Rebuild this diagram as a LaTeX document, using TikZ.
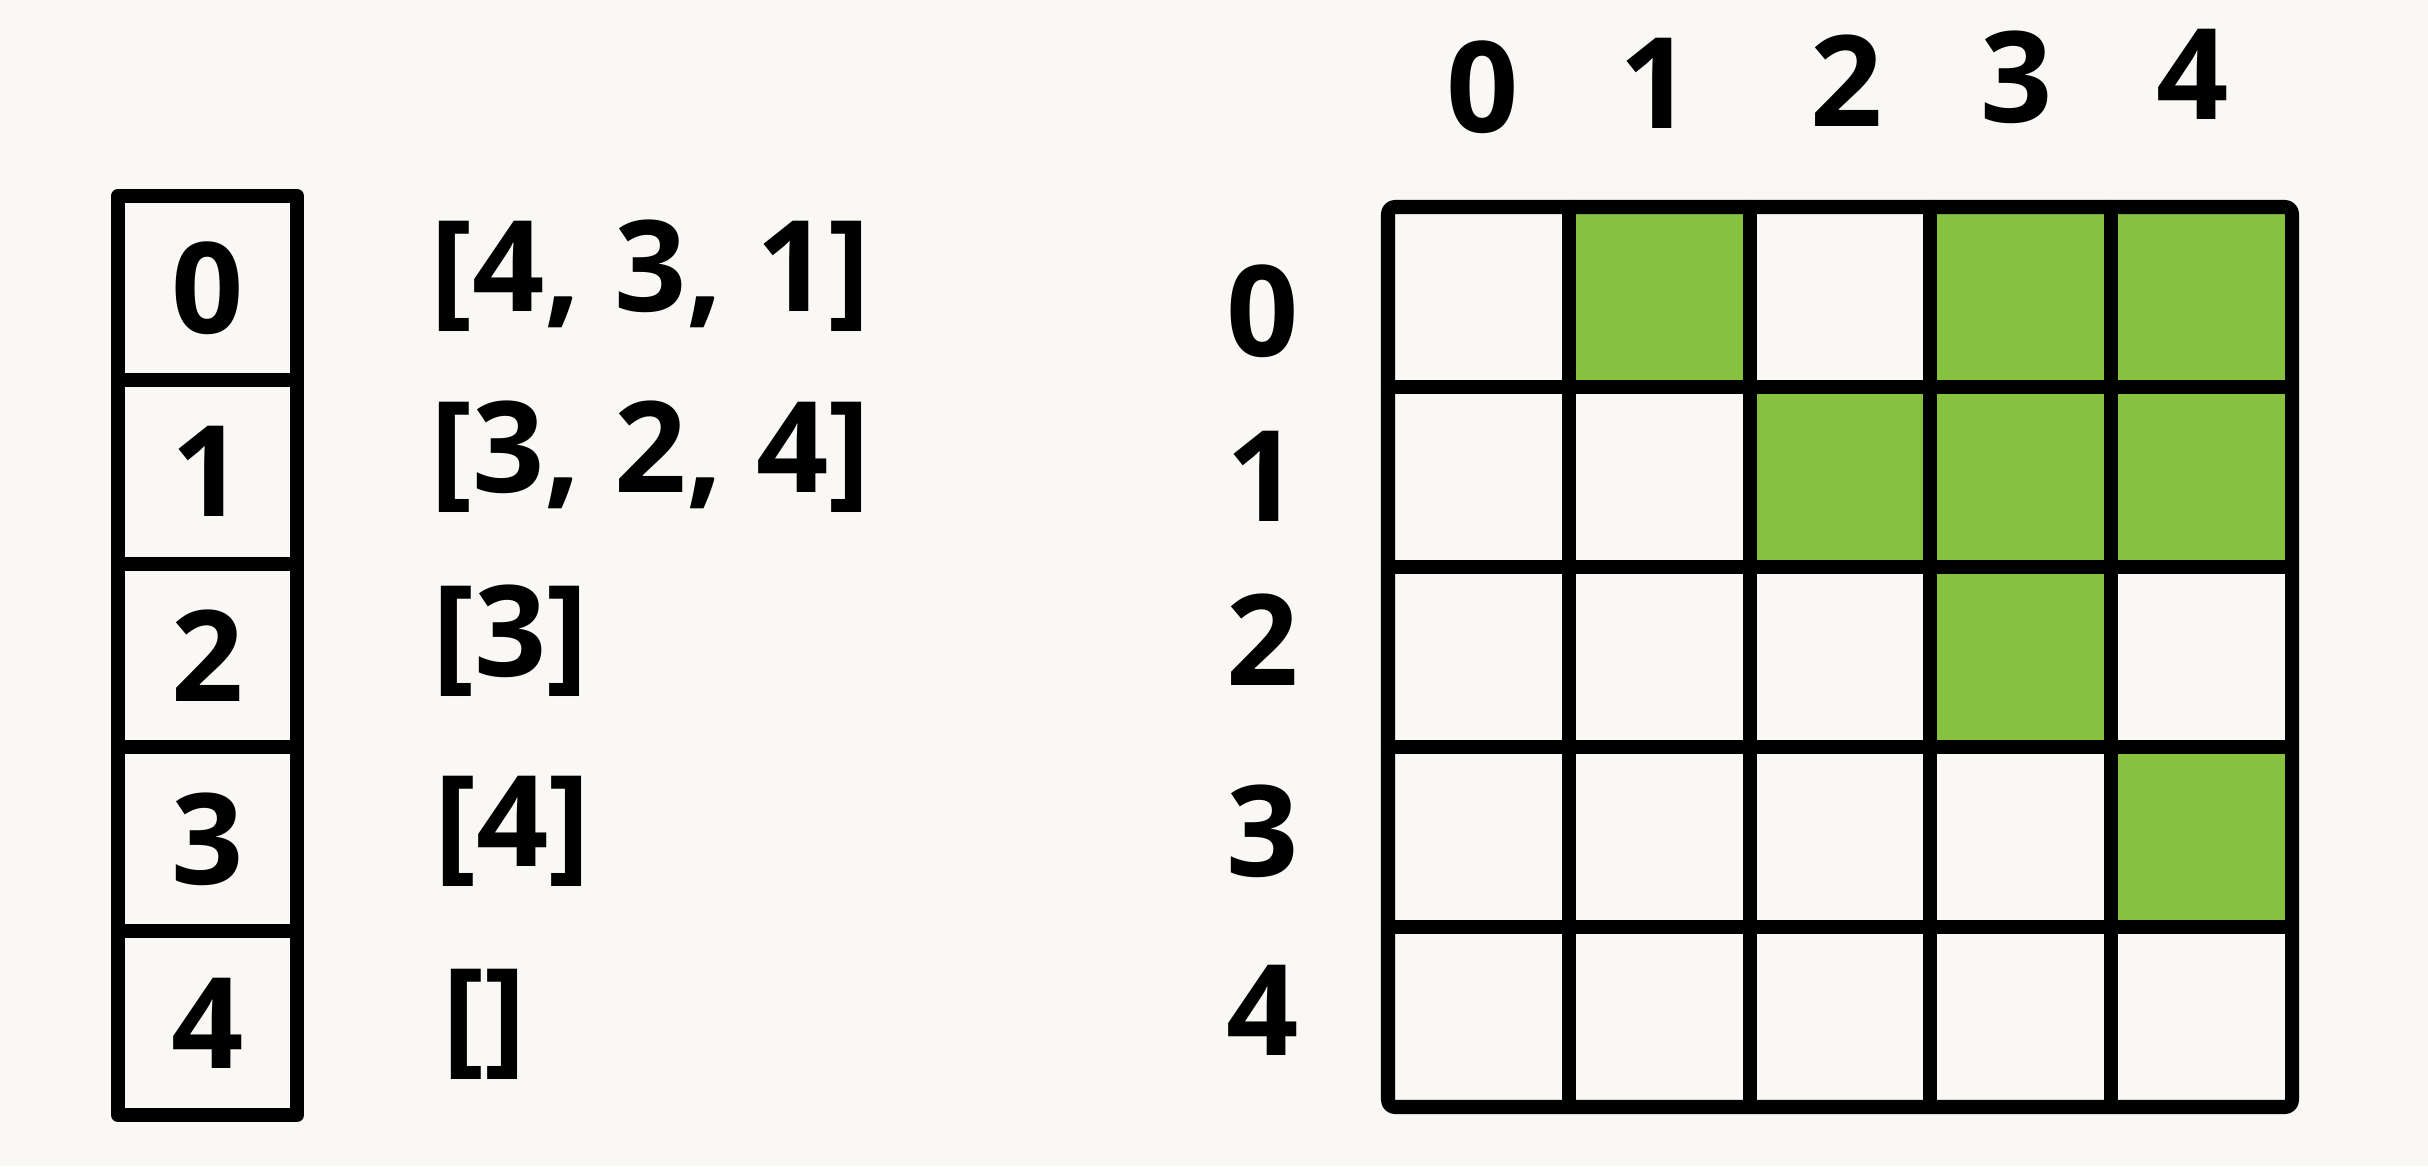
\documentclass[tikz,border=0pt]{standalone}
\usepackage{fontspec}
\setmainfont{Open Sans}
\usetikzlibrary{positioning}

\definecolor{paper}{RGB}{250,248,245}
\definecolor{leaf}{RGB}{134,193,63}

\begin{document}
\begin{tikzpicture}[
    wire/.style={line width=4pt, line join=round, line cap=round},
    num/.style={font=\fontsize{36}{40}\selectfont\bfseries, inner sep=0pt},
    slot/.style={draw, wire, num, minimum width=1.79cm, minimum height=1.838cm, outer sep=0pt},
    lst/.style={num, anchor=west, font=\fontsize{36}{40}\selectfont\bfseries}
  ]
  \fill[paper] (0,0) rectangle (24.28,11.66);

  % vertex array
  \node[slot] (v0) at (2.075, 8.781) {0};
  \node[slot, below=0pt of v0] (v1) {1};
  \node[slot, below=0pt of v1] (v2) {2};
  \node[slot, below=0pt of v2] (v3) {3};
  \node[slot, below=0pt of v3] (v4) {4};

  % adjacency lists
  \node[lst] (l0) at (4.30, 8.90) {[4, 3, 1]};
  \node[lst] (l1) at (4.30, 7.09) {[3, 2, 4]};
  \node[lst] (l2) at (4.32, 5.25) {[3]};
  \node[lst] (l3) at (4.34, 3.35) {[4]};
  \node[lst] (l4) at (4.42, 1.42) {[]};

  % matrix
  \begin{scope}[shift={(13.88,0.59)}, x=1.808cm, y=1.8cm]
    \foreach \c/\r in {1/4, 3/4, 4/4, 2/3, 3/3, 4/3, 3/2, 4/1}
      \fill[leaf] (\c,\r) rectangle ++(1,1);
    \foreach \i in {1,...,4} {
      \draw[wire] (\i,0) -- (\i,5);
      \draw[wire] (0,\i) -- (5,\i);
    }
    \draw[wire, rounded corners=2pt] (0,0) rectangle (5,5);
  \end{scope}

  \node[num] (r0) at (12.63, 8.55) {0};
  \node[num] (r1) at (12.63, 6.90) {1};
  \node[num] (r2) at (12.63, 5.26) {2};
  \node[num] (r3) at (12.63, 3.35) {3};
  \node[num] (r4) at (12.63, 1.56) {4};

  \node[num] (k0) at (14.83, 10.79) {0};
  \node[num] (k1) at (16.56, 10.83) {1};
  \node[num] (k2) at (18.47, 10.85) {2};
  \node[num] (k3) at (20.17, 10.89) {3};
  \node[num] (k4) at (21.93, 10.92) {4};
\end{tikzpicture}
\end{document}
